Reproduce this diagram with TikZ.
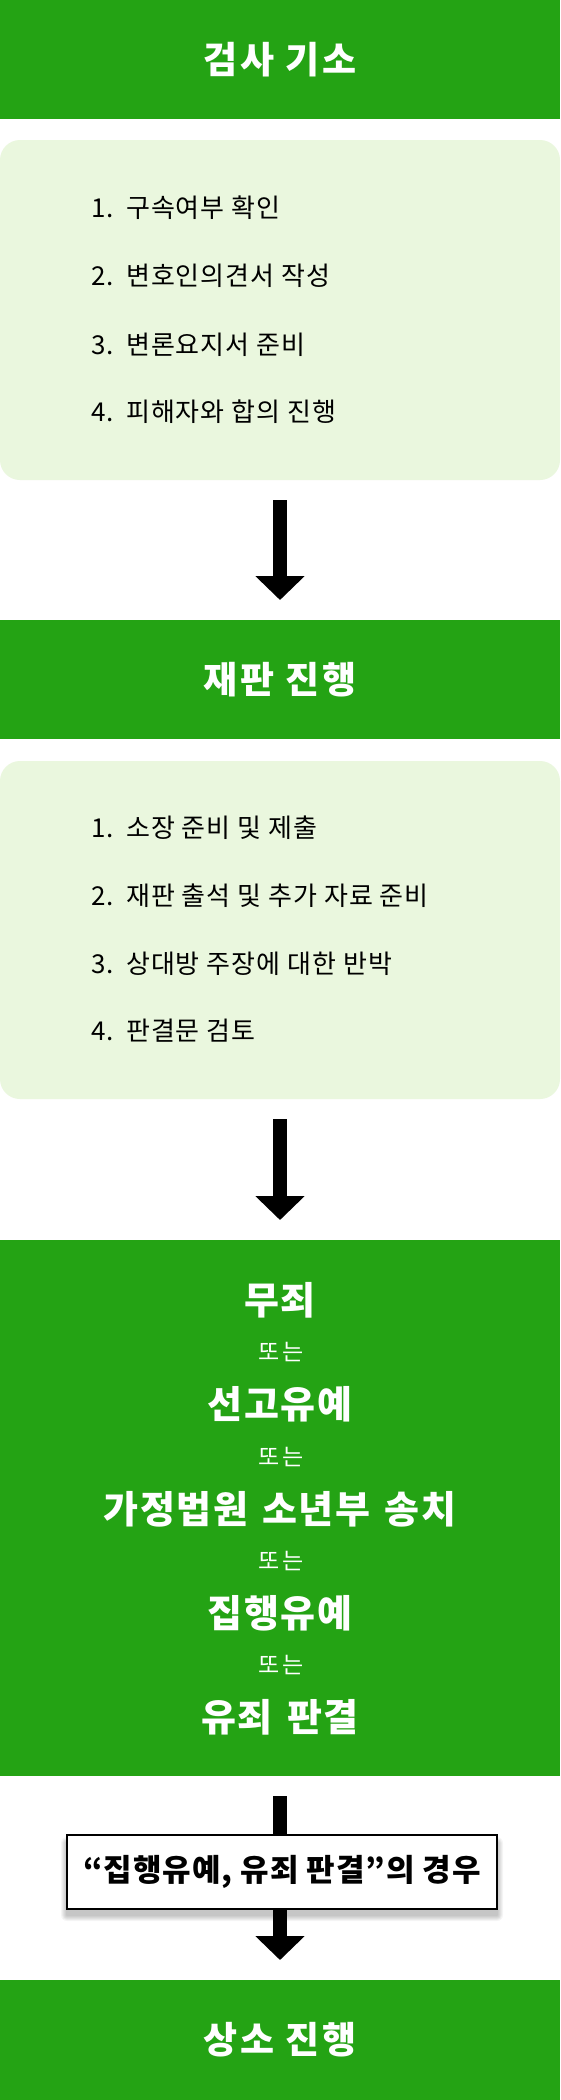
\documentclass[tikz,border=0pt]{standalone}
\usepackage{fontspec}
\setmainfont{Noto Sans CJK KR}
\usetikzlibrary{arrows.meta}
\definecolor{hg}{RGB}{36,163,20}
\definecolor{lg}{RGB}{234,247,222}
\begin{document}
\begin{tikzpicture}[x=1bp,y=-1bp,
  hdr/.style={fill=hg,text=white,minimum width=560bp,inner sep=0pt,outer sep=0pt,font=\fontsize{37bp}{40bp}\selectfont\bfseries\addfontfeature{LetterSpace=7}},
  panel/.style={fill=lg,rounded corners=20bp,minimum width=560bp,inner sep=0pt,outer sep=0pt},
  item/.style={anchor=west,inner sep=0pt,font=\fontsize{26bp}{30bp}\selectfont\addfontfeature{LetterSpace=4}},
  big/.style={text=white,inner sep=0pt,font=\fontsize{38bp}{42bp}\selectfont\bfseries\addfontfeature{LetterSpace=4}},
  small/.style={text=white,inner sep=0pt,font=\fontsize{23bp}{26bp}\selectfont\addfontfeature{LetterSpace=15}},
  flow/.style={line width=14bp,-{Triangle[width=48bp,length=24bp]},shorten <=20bp,shorten >=20bp},
  note/.style={draw=black,line width=2bp,fill=white,minimum width=430bp,minimum height=74bp,inner sep=0pt,font=\fontsize{31bp}{34bp}\selectfont\bfseries\addfontfeature{LetterSpace=3}}]
\fill[white] (0,0) rectangle (560,2100);
% stage 1
\node[hdr,minimum height=119bp] (h1) at (280,59.5) {검사 기소};
\node[panel,minimum height=340bp] (p1) at (280,310) {};
\node[item] (a1) at (91,208) {1.\hspace{3bp} 구속여부 확인};
\node[item] (a2) at (91,276) {2.\hspace{3bp} 변호인의견서 작성};
\node[item] (a3) at (91,345) {3.\hspace{3bp} 변론요지서 준비};
\node[item] (a4) at (91,412) {4.\hspace{3bp} 피해자와 합의 진행};
% stage 2
\node[hdr,minimum height=119bp] (h2) at (280,679.5) {재판 진행};
\node[panel,minimum height=338bp] (p2) at (280,930) {};
\node[item] (b1) at (91,828) {1.\hspace{3bp} 소장 준비 및 제출};
\node[item] (b2) at (91,896) {2.\hspace{3bp} 재판 출석 및 추가 자료 준비};
\node[item] (b3) at (91,964) {3.\hspace{3bp} 상대방 주장에 대한 반박};
\node[item] (b4) at (91,1031) {4.\hspace{3bp} 판결문 검토};
% stage 3
\node[hdr,minimum height=536bp] (h3) at (280,1508) {};
\node[big] (c1) at (280,1300) {무죄};
\node[small] (o1) at (281,1352) {또는};
\node[big] (c2) at (280,1404) {선고유예};
\node[small] (o2) at (281,1457) {또는};
\node[big] (c3) at (280,1509) {가정법원\hspace{4bp} 소년부\hspace{4bp} 송치};
\node[small] (o3) at (281,1561) {또는};
\node[big] (c4) at (280,1613) {집행유예};
\node[small] (o4) at (281,1665) {또는};
\node[big] (c5) at (280,1717) {유죄\hspace{4bp} 판결};
% stage 4
\node[hdr,minimum height=120bp] (h4) at (280,2040) {상소 진행};
% connectors
\draw[flow] (p1.south) -- (h2.north);
\draw[flow] (p2.south) -- (h3.north);
\draw[flow] (h3.south) -- (h4.north);
% note with soft shadow
\foreach \d in {1,...,6}
  \fill[black,opacity=0.04,rounded corners=\d bp] (67-\d,1843-\d) rectangle (497+\d,1915+\d);
\node[note] (n1) at (282,1872) {“집행유예, 유죄 판결”의 경우};
\end{tikzpicture}
\end{document}
